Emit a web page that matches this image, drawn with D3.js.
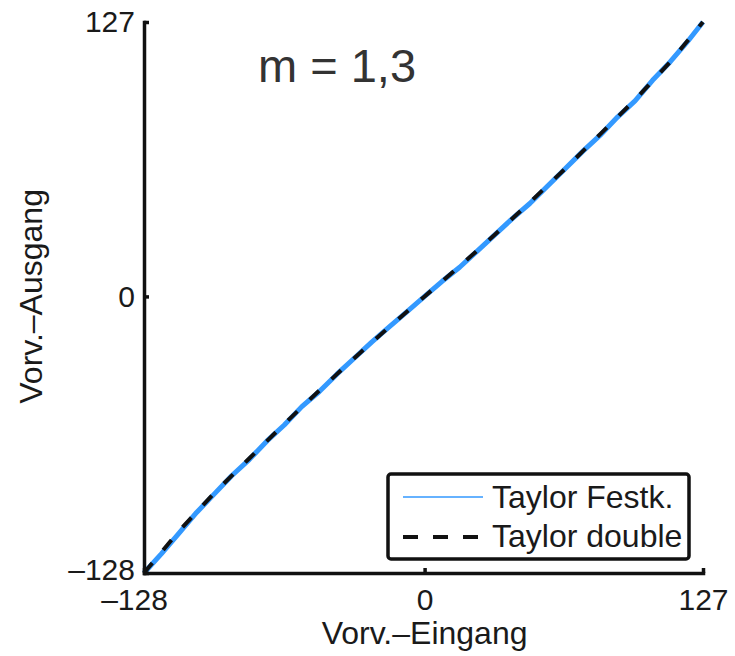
<!DOCTYPE html>
<html>
<head>
<meta charset="utf-8">
<script src="https://cdn.jsdelivr.net/npm/d3@7"></script>
<style>
  body { margin: 0; background: #fff; }
  text { font-family: "Liberation Sans", Arial, sans-serif; fill: #1a1a1a; }
</style>
</head>
<body>
<svg id="chart" width="735" height="656"></svg>
<script>
// Taylor double (dashed black)
var doubleIn  = [-128, -112, -96, -80, -64, -48, -32, -16, 0, 16, 32, 48, 64, 80, 96, 112, 127];
var doubleOut = [-128, -108.5, -91, -75, -59, -43.5, -28.5, -14, 0, 14, 28.5, 43.5, 59, 75, 91, 108.5, 127];

// Taylor Festk. (blue, fixed point) - a bit of jitter visible
var festIn  = [-128, -120, -112, -104, -96, -88, -80, -72, -64, -56, -48, -40, -32, -24, -16, -8,
               0, 8, 16, 24, 32, 40, 48, 56, 64, 72, 80, 88, 96, 104, 112, 120, 127];
var festOut = [-128, -119, -109.5, -100, -91.5, -83, -75.5, -67, -59.5, -51, -44, -36, -28.5, -21, -14, -7,
               0, 7, 13.5, 21, 28.5, 36, 43, 51, 59, 67, 74.5, 83, 90.5, 100, 108.5, 118, 127];

var tickVals = [-128, 0, 127];
var legendNames = ["Taylor Festk.", "Taylor double"];

var svg = d3.select("#chart");
var margin = {top: 22, right: 32, bottom: 83, left: 144};
var width = 735 - margin.left - margin.right;
var height = 656 - margin.top - margin.bottom;

var x = d3.scaleLinear().domain([-128, 127]).range([margin.left, margin.left + width]);
var y = d3.scaleLinear().domain([-128, 127]).range([margin.top + height, margin.top]);

var line = d3.line()
    .x(function(d) { return x(d[0]); })
    .y(function(d) { return y(d[1]); });

// curves
svg.append("path")
    .datum(d3.zip(festIn, festOut))
    .attr("d", line)
    .attr("fill", "none")
    .attr("stroke", "#3399ff")
    .attr("stroke-width", 5)
    .attr("stroke-linejoin", "round");

svg.append("path")
    .datum(d3.zip(doubleIn, doubleOut))
    .attr("d", line)
    .attr("fill", "none")
    .attr("stroke", "#111")
    .attr("stroke-width", 4)
    .attr("stroke-dasharray", "13,17");

// axes
var fmt = function(d) { return d < 0 ? "\u2013" + (-d) : d; };

var xAxis = svg.append("g")
    .attr("transform", "translate(0," + (margin.top + height) + ")")
    .call(d3.axisBottom(x).tickValues(tickVals).tickSizeInner(-5).tickSizeOuter(0).tickPadding(16)
      .tickFormat(fmt));

var yAxis = svg.append("g")
    .attr("transform", "translate(" + margin.left + ",0)")
    .call(d3.axisLeft(y).tickValues(tickVals).tickSizeInner(-5).tickSizeOuter(0).tickPadding(9)
      .tickFormat(fmt));

[xAxis, yAxis].forEach(function(a) {
  a.select(".domain").attr("stroke", "#111").attr("stroke-width", 3.5).attr("stroke-linecap", "square");
  a.selectAll(".tick line").attr("stroke", "#111").attr("stroke-width", 3.5);
  a.selectAll(".tick text")
      .style("font-family", "'Liberation Sans', Arial, sans-serif")
      .style("font-size", "30px")
      .attr("fill", "#1a1a1a");
});
xAxis.selectAll(".tick text").filter(function(d) { return d < 0; }).attr("dx", -10);
// keep the two -128 labels in the corner apart
yAxis.selectAll(".tick text").filter(function(d) { return d < 0; }).attr("dy", "0.2em");

// axis titles
svg.append("text")
    .attr("x", x(0))
    .attr("y", 644)
    .attr("text-anchor", "middle")
    .style("font-size", "32px")
    .text("Vorv.\u2013Eingang");

svg.append("text")
    .attr("transform", "translate(42," + y(0) + ") rotate(-90)")
    .attr("text-anchor", "middle")
    .style("font-size", "32px")
    .text("Vorv.\u2013Ausgang");

// annotation
svg.append("text")
    .attr("x", 337)
    .attr("y", 82)
    .attr("text-anchor", "middle")
    .style("font-size", "47px")
    .style("fill", "#333")
    .text("m = 1,3");

// legend
var legend = svg.append("g");
legend.append("rect")
    .attr("x", 388).attr("y", 474)
    .attr("width", 301).attr("height", 85)
    .attr("rx", 3)
    .attr("fill", "#fff")
    .attr("stroke", "#111")
    .attr("stroke-width", 3.5);

legend.append("line")
    .attr("x1", 403).attr("x2", 483).attr("y1", 497).attr("y2", 497)
    .attr("stroke", "#3399ff").attr("stroke-width", 1.5);
legend.append("line")
    .attr("x1", 403).attr("x2", 483).attr("y1", 537).attr("y2", 537)
    .attr("stroke", "#111").attr("stroke-width", 4).attr("stroke-dasharray", "15,15");

legend.selectAll("text.leg")
    .data(legendNames)
    .enter().append("text")
    .attr("class", "leg")
    .attr("x", 492)
    .attr("y", function(d, i) { return 508 + i * 39; })
    .style("font-size", "32px")
    .text(function(d) { return d; });
</script>
</body>
</html>
